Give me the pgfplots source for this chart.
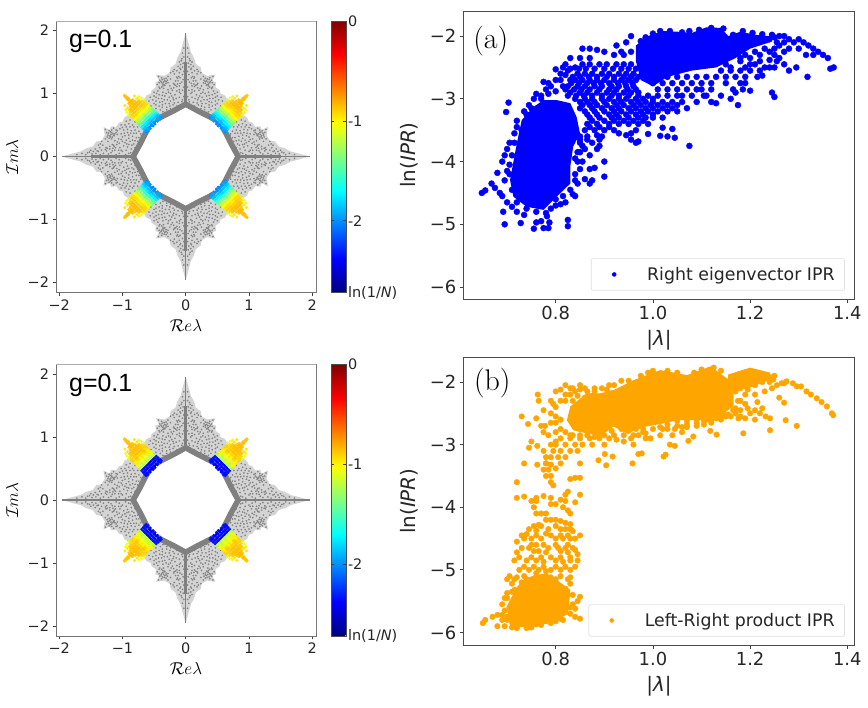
\documentclass[border=0pt]{standalone}
\usepackage{fontspec}
\usepackage{pgfplots}
\usepackage{pgfplotstable}
\pgfplotsset{compat=1.18}
\setsansfont{DejaVu Sans}
\newfontfamily\arial{Liberation Sans}
\newcommand{\fs}[1]{\fontsize{#1}{#1}\selectfont}
\definecolor{mplorange}{RGB}{255,165,0}

% one octant of the spectrum, drawn eight times by symmetry
\pgfplotstableread{
x y
0.83 0
1.96 0
1.78 0.05
1.66 0.08
1.57 0.13
1.47 0.16
1.41 0.24
1.33 0.25
1.28 0.34
1.30 0.47
1.20 0.42
1.18 0.48
1.10 0.47
1.05 0.54
1.00 0.55
0.97 0.62
0.87 0.68
0.60 0.43
0.67 0.30
0.72 0.20
0.78 0.09
}\wingtable
\pgfplotstableread{
x y
0.83 0
0.78 0.09
0.72 0.20
0.67 0.30
0.63 0.38
0.60 0.43
}\ringtable
\pgfplotstableread{
x y
0.83 0
1.50 0
}\spinetable
\pgfplotstableread{
x y
1.50 0
1.96 0
}\tiptable
\pgfplotstableread{
x y
0.90 0.05
0.95 0.03
1.00 0.08
1.05 0.05
1.10 0.03
1.12 0.10
1.18 0.06
1.22 0.04
1.25 0.09
1.30 0.05
1.35 0.03
1.38 0.08
1.42 0.05
1.48 0.04
1.52 0.07
1.58 0.03
1.64 0.05
1.72 0.03
0.86 0.12
0.92 0.15
0.98 0.17
1.04 0.14
1.09 0.19
1.15 0.13
1.20 0.16
1.26 0.14
1.31 0.18
1.36 0.14
1.43 0.12
1.50 0.10
0.82 0.20
0.88 0.24
0.94 0.26
1.00 0.24
1.06 0.28
1.12 0.25
1.17 0.28
1.23 0.24
1.27 0.28
1.33 0.24
0.78 0.30
0.84 0.32
0.90 0.34
0.96 0.33
1.02 0.36
1.08 0.35
1.13 0.33
1.15 0.36
1.18 0.35
1.20 0.33
1.22 0.37
1.24 0.31
1.19 0.39
1.16 0.31
1.21 0.29
0.74 0.40
0.80 0.42
0.86 0.41
0.92 0.43
0.98 0.42
1.04 0.44
1.10 0.42
0.84 0.50
0.90 0.52
0.96 0.50
1.02 0.50
0.76 0.47
0.71 0.36
0.76 0.24
0.80 0.14
1.13 0.16
1.14 0.18
1.16 0.19
1.11 0.14
1.35 0.20
1.38 0.18
1.05 0.21
1.00 0.31
0.93 0.20
0.87 0.37
1.17 0.38
1.14 0.34
1.12 0.36
1.19 0.31
1.23 0.34
1.25 0.38
1.21 0.41
1.17 0.42
1.10 0.38
1.16 0.09
1.20 0.12
1.24 0.13
1.27 0.11
1.33 0.10
1.40 0.09
1.46 0.08
1.55 0.06
0.80 0.07
0.76 0.13
0.72 0.27
0.70 0.33
0.87 0.06
0.85 0.18
0.80 0.25
0.78 0.37
0.74 0.30
0.82 0.47
0.88 0.47
0.94 0.47
1.00 0.46
0.88 0.58
0.94 0.56
0.80 0.55
0.74 0.52
0.90 0.29
0.96 0.22
1.02 0.27
1.08 0.23
1.06 0.10
0.94 0.10
0.90 0.19
0.84 0.26
0.82 0.37
1.02 0.10
1.08 0.41
1.14 0.45
1.27 0.43
0.97 0.37
0.92 0.38
}\specktable
\pgfplotstableread{
x y za zb
0.515 0.485 -2.05 -2.40
0.560 0.445 -2.00 -2.38
0.600 0.400 -1.95 -2.35
0.625 0.385 -2.00 -2.30
0.540 0.510 -2.00 -2.42
0.575 0.470 -1.95 -2.36
0.615 0.430 -1.90 -2.40
0.645 0.405 -1.90 -2.33
0.565 0.540 -1.90 -2.38
0.600 0.505 -1.85 -2.41
0.635 0.470 -1.85 -2.30
0.670 0.435 -1.80 -2.36
0.590 0.570 -1.80 -2.36
0.625 0.535 -1.75 -2.30
0.660 0.500 -1.75 -2.42
0.695 0.465 -1.70 -2.33
0.530 0.495 -2.00 -2.38
0.555 0.480 -1.98 -2.42
0.590 0.435 -1.92 -2.32
0.625 0.410 -1.95 -2.36
0.580 0.520 -1.85 -2.33
0.615 0.490 -1.82 -2.40
0.650 0.450 -1.85 -2.34
0.610 0.555 -1.75 -2.40
0.645 0.520 -1.72 -2.35
0.680 0.480 -1.72 -2.30
0.615 0.605 -1.60 -1.25
0.650 0.570 -1.60 -1.20
0.690 0.530 -1.55 -1.10
0.725 0.495 -1.50 -1.30
0.630 0.590 -1.55 -1.15
0.670 0.550 -1.50 -1.25
0.710 0.510 -1.45 -1.15
0.645 0.635 -1.45 -1.15
0.680 0.600 -1.40 -1.05
0.715 0.565 -1.35 -1.15
0.750 0.530 -1.40 -1.00
0.660 0.620 -1.35 -1.10
0.700 0.585 -1.30 -1.20
0.735 0.545 -1.30 -1.05
0.675 0.665 -1.25 -1.10
0.710 0.630 -1.20 -1.00
0.745 0.595 -1.25 -0.95
0.775 0.560 -1.20 -1.05
0.690 0.650 -1.15 -1.05
0.730 0.610 -1.15 -1.10
0.760 0.575 -1.18 -0.98
0.700 0.690 -1.10 -0.95
0.740 0.655 -1.05 -0.90
0.775 0.625 -1.10 -0.90
0.805 0.590 -1.05 -0.95
0.720 0.675 -1.02 -1.00
0.755 0.640 -1.00 -0.92
0.790 0.605 -1.02 -1.00
0.730 0.720 -0.98 -0.90
0.765 0.685 -0.95 -0.88
0.800 0.650 -0.95 -0.90
0.830 0.620 -0.95 -0.88
0.745 0.705 -0.95 -0.92
0.785 0.665 -0.92 -0.86
0.815 0.635 -0.93 -0.95
0.760 0.750 -0.90 -0.88
0.795 0.715 -0.88 -0.86
0.830 0.680 -0.90 -0.90
0.860 0.640 -0.95 -0.92
0.775 0.735 -0.90 -0.85
0.810 0.700 -0.88 -0.88
0.845 0.660 -0.90 -0.90
0.790 0.780 -0.86 -0.86
0.825 0.745 -0.86 -0.85
0.860 0.710 -0.88 -0.88
0.810 0.765 -0.85 -0.86
0.845 0.725 -0.86 -0.88
0.880 0.690 -0.92 -0.92
0.820 0.810 -0.85 -0.85
0.855 0.770 -0.85 -0.85
0.890 0.735 -0.90 -0.90
0.835 0.795 -0.85 -0.85
0.870 0.755 -0.86 -0.86
0.850 0.840 -0.85 -0.85
0.880 0.800 -0.86 -0.86
0.880 0.870 -0.85 -0.85
0.910 0.900 -0.85 -0.85
0.940 0.930 -0.86 -0.86
0.970 0.965 -0.88 -0.88
0.900 0.840 -0.88 -0.88
0.870 0.860 -0.85 -0.85
0.865 0.830 -0.85 -0.85
0.890 0.860 -0.85 -0.85
0.925 0.905 -0.86 -0.86
0.955 0.945 -0.87 -0.87
0.920 0.770 -0.95 -0.95
0.950 0.740 -1.00 -1.00
0.930 0.700 -1.05 -1.05
0.960 0.810 -0.95 -0.95
0.900 0.660 -1.10 -1.10
}\patchtable

\newcommand{\eightfold}[2]{%
\addplot[#1,forget plot] table[x expr=\thisrow{x},y expr=\thisrow{y}] {#2};
\addplot[#1,forget plot] table[x expr=-\thisrow{x},y expr=\thisrow{y}] {#2};
\addplot[#1,forget plot] table[x expr=\thisrow{x},y expr=-\thisrow{y}] {#2};
\addplot[#1,forget plot] table[x expr=-\thisrow{x},y expr=-\thisrow{y}] {#2};
\addplot[#1,forget plot] table[x expr=\thisrow{y},y expr=\thisrow{x}] {#2};
\addplot[#1,forget plot] table[x expr=-\thisrow{y},y expr=\thisrow{x}] {#2};
\addplot[#1,forget plot] table[x expr=\thisrow{y},y expr=-\thisrow{x}] {#2};
\addplot[#1,forget plot] table[x expr=-\thisrow{y},y expr=-\thisrow{x}] {#2};
}
\newcommand{\spectrum}[1]{%
\eightfold{fill=black!17,draw=none,no markers}{\wingtable}
\eightfold{only marks,mark=*,mark size=0.7bp,color=black!50,mark options={line width=0.2bp}}{\specktable}
\eightfold{draw=black!50,line width=5.5bp,line cap=round,line join=round,no markers}{\ringtable}
\eightfold{draw=black!50,line width=2.6bp,no markers}{\spinetable}
\eightfold{draw=black!50,line width=1.5bp,no markers}{\tiptable}
\eightfold{scatter,only marks,mark=*,mark size=1.4bp,point meta=\thisrow{#1},
  scatter/use mapped color={draw=mapped color,fill=mapped color},mark options={line width=0.2bp}}{\patchtable}
\draw[draw=black!32,line width=0.9bp] (rel axis cs:0,1)--(rel axis cs:1,1)--(rel axis cs:1,0);
}

\pgfplotsset{
  specaxis/.style={
    scale only axis,width=260bp,
    xmin=-2.05,xmax=2.06,ymin=-2.16,ymax=2.15,
    xtick={-2,-1,0,1,2},ytick={-2,-1,0,1,2},
    xticklabels={−2,−1,0,1,2},yticklabels={−2,−1,0,1,2},
    tick align=outside,xtick pos=left,ytick pos=left,
    major tick length=3.5bp,
    axis line style={draw=black!55,line width=0.8bp},
    tick style={draw=black!75,line width=0.7bp},
    tick label style={font=\sffamily\fs{14.5},text=black!85},
    xlabel={$\mathcal{R}e\lambda$},ylabel={$\mathcal{I}m\lambda$},
    xlabel style={at={(axis description cs:0.5,-0.119)},anchor=center,font=\fs{17}},
    ylabel style={at={(axis description cs:-0.169,0.5)},anchor=center,font=\fs{17}},
    colormap/jet,point meta min=-2.72,point meta max=0,
    colorbar,colorbar shift/.style={xshift=11bp},
    colorbar style={width=14.7bp,
      ytick={-2.72,-2,-1,0},yticklabels={ln(1/\textit{N}),-2,-1,0},
      major tick length=3bp,
      tick style={draw=black!75,line width=0.7bp},
      axis line style={draw=black!70,line width=0.6bp},
      yticklabel style={font=\sffamily\fs{14.5},text=black!85,inner sep=0pt,xshift=2bp,anchor=west},
    },
  },
  iprs/.style={
    scale only axis,width=390.6bp,
    xmin=0.6107,xmax=1.4144,
    xtick={0.8,1.0,1.2,1.4},xticklabels={0.8,1.0,1.2,1.4},
    ytick={-2,-3,-4,-5,-6},yticklabels={−2,−3,−4,−5,−6},
    tick align=outside,xtick pos=left,ytick pos=left,
    major tick length=4bp,
    axis line style={draw=black!70,line width=0.9bp},
    tick style={draw=black!75,line width=0.8bp},
    tick label style={font=\sffamily\fs{18},text=black!85},
    xlabel={|\textit{λ}|},ylabel={ln(\textit{IPR})},
    xlabel style={anchor=center,font=\sffamily\fs{20},text=black!85},
    ylabel style={at={(axis description cs:-0.14,0.5)},anchor=center,font=\sffamily\fs{20},text=black!85},
    legend cell align=left,
    legend style={font=\sffamily\fs{17.4},text=black!85,draw=black!12,rounded corners=2bp,
      line width=0.7bp,anchor=south east,inner xsep=8bp,inner ysep=2bp,
      nodes={inner ysep=6.5bp}},
  },
}

\begin{document}
\begin{tikzpicture}[x=1bp,y=1bp]
\path[use as bounding box] (0,0) rectangle (868,708);

\begin{axis}[specaxis,at={(56bp,415.3bp)},anchor=south west,height=271.7bp]
\spectrum{za}
\end{axis}

\begin{axis}[specaxis,at={(56bp,72bp)},anchor=south west,height=271.3bp]
\spectrum{zb}
\end{axis}

\begin{axis}[iprs,at={(463.7bp,409bp)},anchor=south west,height=288bp,
  ymin=-6.19,ymax=-1.60,
  xlabel style={at={(axis description cs:0.5,-0.142)}},
  legend style={at={(axis description cs:0.976,0.029)}},
  legend image code/.code={\path[draw=none,fill=none] (0,-2bp) rectangle (46bp,2bp);\fill[blue,draw=none] (15bp,0) circle (2.3bp);}]
% dense parts of the cloud
\addplot[fill=blue,draw=none,no markers,forget plot] coordinates {
(.706,-4.295) (.72,-3.71) (.73,-3.34) (.754,-3.13) (.775,-3.02) (.802,-3.02) (.83,-3.07) (.843,-3.29)
(.85,-3.55) (.836,-3.76) (.83,-4.08) (.83,-4.35) (.802,-4.56) (.775,-4.77) (.74,-4.72) (.713,-4.56)};
\addplot[fill=blue,draw=none,no markers,forget plot] coordinates {
(.965,-2.15) (.99,-2.0) (1.02,-1.92) (1.05,-1.93) (1.08,-1.95) (1.11,-1.86) (1.14,-1.87) (1.155,-2.0)
(1.18,-1.93) (1.21,-1.98) (1.24,-2.0) (1.24,-2.1) (1.2,-2.2) (1.17,-2.35) (1.13,-2.5) (1.08,-2.55)
(1.03,-2.65) (1.0,-2.8) (.975,-2.7) (.965,-2.4)};
\addplot[only marks,mark=*,mark size=3.0bp,color=blue,mark options={line width=0.4bp}] coordinates {
(.648,-4.5) (.655,-4.46) (.668,-4.35) (.68,-4.18) (.69,-4.0) (.675,-4.42) (.685,-4.5) (.69,-4.55)
(.692,-4.8) (.695,-5.0) (.7,-4.65) (.71,-4.72) (.72,-4.8) (.735,-4.85) (.728,-4.98) (.755,-5.07)
(.76,-4.97) (.77,-4.95) (.775,-5.06) (.785,-5.06) (.787,-4.97) (.782,-4.87) (.825,-4.93) (.825,-5.03)
(.79,-4.75) (.81,-4.68) (.82,-4.65) (.835,-4.52) (.84,-4.55) (.845,-4.35) (.85,-4.12) (.8,-4.7)
(.703,-3.06) (.698,-3.21) (.705,-3.7) (.7,-3.8) (.695,-3.9) (.705,-4.05) (.7,-4.15) (.72,-3.35)
(.735,-3.2) (.75,-3.15) (.76,-2.92) (.77,-3.0) (.78,-2.85) (.785,-2.75) (.775,-2.73) (.79,-2.8)
(.8,-2.53) (.81,-2.7) (.82,-2.62) (.825,-2.55) (.815,-2.5) (.83,-2.35) (.695,-4.3) (.71,-4.45) (.715,-3.55)
(.87,-4.12) (.88,-4.1) (.9,-4.0) (.9,-4.24) (.86,-4.28) (.87,-4.35) (.875,-4.3) (.855,-4.0)
(.87,-3.9) (.885,-3.8) (.89,-3.75) (.895,-3.6) (.9,-3.5) (.89,-3.65) (.86,-3.8) (.85,-3.85)
(.865,-3.65) (.875,-3.7) (.92,-3.5) (.93,-3.55) (.945,-3.58) (.955,-3.65) (.965,-3.7) (.97,-3.68)
(.955,-3.55) (.965,-3.5) (.99,-3.56) (1.015,-3.59) (1.02,-3.46) (1.04,-3.48) (1.045,-3.62) (1.03,-3.6)
(1.075,-3.75) (.84,-3.95) (.84,-4.2) (.85,-3.7)
(.855,-2.2) (.87,-2.2) (.885,-2.22) (.925,-2.15) (.945,-2.1) (.955,-2.0) (.935,-2.25)
(.85,-2.35) (.87,-2.35) (.9,-2.25) (.92,-2.3) (.94,-2.3) (.955,-2.25)
(.82,-2.45) (.84,-2.5) (.855,-2.45) (.87,-2.45) (.89,-2.45) (.905,-2.45) (.925,-2.45) (.94,-2.45) (.955,-2.45)
(.845,-2.6) (.86,-2.6) (.875,-2.6) (.895,-2.6) (.91,-2.6) (.93,-2.6) (.945,-2.6) (.96,-2.6)
(.84,-2.7) (.855,-2.7) (.87,-2.7) (.885,-2.7) (.9,-2.7) (.92,-2.7) (.935,-2.7) (.95,-2.7) (.965,-2.7)
(.825,-2.8) (.845,-2.8) (.86,-2.8) (.88,-2.8) (.895,-2.8) (.915,-2.8) (.93,-2.8) (.945,-2.8) (.96,-2.8)
(.83,-2.9) (.85,-2.9) (.865,-2.9) (.885,-2.9) (.905,-2.9) (.92,-2.9) (.94,-2.9) (.955,-2.9) (.97,-2.9)
(.84,-3.0) (.86,-3.0) (.875,-3.0) (.895,-3.0) (.91,-3.0) (.93,-3.0) (.945,-3.0) (.965,-3.0) (.98,-3.0) (1.0,-3.0)
(.855,-3.1) (.87,-3.1) (.885,-3.1) (.905,-3.1) (.925,-3.1) (.94,-3.1) (.96,-3.1) (.975,-3.1) (.995,-3.1) (1.01,-3.1) (1.03,-3.1) (1.05,-3.1)
(.86,-3.2) (.88,-3.2) (.9,-3.2) (.92,-3.2) (.935,-3.2) (.955,-3.2) (.975,-3.2) (.99,-3.2) (1.01,-3.2) (1.03,-3.2) (1.05,-3.2)
(.87,-3.3) (.89,-3.3) (.915,-3.3) (.93,-3.3) (.95,-3.3) (.97,-3.3) (.985,-3.3) (1.0,-3.3) (1.02,-3.3)
(.865,-3.4) (.885,-3.4) (.91,-3.4) (.93,-3.4) (.95,-3.4) (.97,-3.4) (.99,-3.4)
(.86,-3.5) (.88,-3.5) (.865,-3.6) (.885,-3.58) (.85,-3.6)
(1.14,-2.55) (1.16,-2.55) (1.18,-2.55) (1.2,-2.55) (1.22,-2.55) (1.24,-2.5)
(1.01,-2.65) (1.03,-2.65) (1.05,-2.65) (1.07,-2.65) (1.09,-2.65) (1.11,-2.65) (1.13,-2.65) (1.15,-2.65) (1.17,-2.65) (1.19,-2.65)
(1.0,-2.75) (1.02,-2.75) (1.04,-2.75) (1.06,-2.75) (1.08,-2.75) (1.10,-2.75) (1.12,-2.75) (1.15,-2.75) (1.18,-2.75) (1.19,-2.75)
(1.01,-2.85) (1.03,-2.85) (1.05,-2.85) (1.07,-2.85) (1.09,-2.85) (1.1,-2.85) (1.12,-2.85) (1.165,-2.85) (1.2,-2.87)
(1.01,-2.95) (1.03,-2.95) (1.05,-2.95) (1.06,-2.95) (1.08,-2.95) (1.11,-2.95) (1.14,-2.95) (1.17,-2.9)
(1.04,-3.05) (1.06,-3.05) (1.09,-3.05) (1.12,-3.05) (1.13,-3.07) (1.16,-3.0) (1.175,-3.1) (1.07,-3.15) (1.105,-2.95) (1.185,-2.85)
(1.18,-2.4) (1.2,-2.35) (1.21,-2.45) (1.22,-2.3) (1.24,-2.25) (1.25,-2.2) (1.19,-2.5) (1.215,-2.65) (1.225,-2.63)
(1.245,-2.9) (1.25,-2.97) (1.318,-2.65) (1.295,-2.5) (1.27,-2.45) (1.28,-2.55) (1.25,-2.5) (1.255,-2.4) (1.26,-2.35) (1.23,-2.5)
(1.36,-2.35) (1.35,-2.3) (1.372,-2.5) (1.365,-2.52) (1.34,-2.25) (1.33,-2.2) (1.32,-2.15) (1.31,-2.1) (1.3,-2.05) (1.29,-2.1)
(1.28,-2.05) (1.27,-2.0) (1.26,-2.0) (1.25,-2.02) (1.33,-2.3) (1.315,-2.3) (1.3,-2.2) (1.28,-2.2) (1.27,-2.1) (1.255,-2.1) (1.24,-2.05)
(.83,-2.52) (.848,-2.52) (.862,-2.52) (.88,-2.52) (.9,-2.52) (.918,-2.52) (.935,-2.52) (.95,-2.52) (.965,-2.52)
(.835,-2.65) (.85,-2.65) (.868,-2.65) (.885,-2.65) (.905,-2.65) (.92,-2.65) (.94,-2.65) (.955,-2.65) (.97,-2.65)
(.832,-2.75) (.848,-2.75) (.865,-2.75) (.878,-2.75) (.893,-2.75) (.91,-2.75) (.928,-2.75) (.943,-2.75) (.958,-2.75)
(.82,-2.85) (.838,-2.85) (.853,-2.85) (.87,-2.85) (.89,-2.85) (.91,-2.85) (.925,-2.85) (.948,-2.85) (.965,-2.85)
(.825,-2.95) (.842,-2.95) (.858,-2.95) (.875,-2.95) (.895,-2.95) (.915,-2.95) (.93,-2.95) (.95,-2.95) (.97,-2.95) (.99,-2.95)
(.85,-3.05) (.865,-3.05) (.88,-3.05) (.9,-3.05) (.92,-3.05) (.935,-3.05) (.955,-3.05) (.97,-3.05) (.985,-3.05) (1.0,-3.05) (1.02,-3.05)
(.85,-3.15) (.875,-3.15) (.895,-3.15) (.915,-3.15) (.93,-3.15) (.95,-3.15) (.965,-3.15) (.985,-3.15) (1.0,-3.15) (1.02,-3.15) (1.04,-3.15)
(.865,-3.25) (.885,-3.25) (.91,-3.25) (.925,-3.25) (.945,-3.25) (.965,-3.25) (.98,-3.25) (1.0,-3.25)
(.875,-3.35) (.9,-3.35) (.92,-3.35) (.94,-3.35) (.96,-3.35) (.98,-3.35) (.87,-3.45) (.89,-3.45) (.91,-3.45)
(.72,-3.45) (.715,-3.7) (.71,-3.9) (.705,-4.2) (.73,-3.5) (.74,-3.25) (.745,-3.1) (.755,-3.0) (.77,-2.95) (.785,-2.92) (.8,-2.88) (.815,-2.8)
(.8,-2.7) (.83,-2.7) (.81,-2.6) (.72,-4.65) (.74,-4.75) (.76,-4.8) (.78,-4.82) (.8,-4.6) (.815,-4.55) (.83,-4.45) (.84,-4.3) (.845,-4.0)
(.845,-3.85) (.855,-3.75) (.85,-3.65)
(.975,-2.08) (.985,-2.02) (1.0,-1.96) (1.015,-1.92) (1.035,-1.92) (1.06,-1.94) (1.075,-1.92) (1.095,-1.9) (1.12,-1.87) (1.145,-1.88)
(1.165,-1.98) (1.185,-1.92) (1.205,-1.95) (1.225,-1.97) (1.245,-1.98)
(1.17,-2.25) (1.19,-2.3) (1.21,-2.25) (1.23,-2.2) (1.18,-2.35) (1.2,-2.45) (1.22,-2.4) (1.24,-2.38) (1.15,-2.45) (1.16,-2.5) (1.25,-2.3) (1.26,-2.15) (1.27,-2.25)
};
\addlegendentry{Right eigenvector IPR}
\end{axis}

\begin{axis}[iprs,at={(463.7bp,63bp)},anchor=south west,height=287.7bp,
  ymin=-6.2,ymax=-1.605,
  xlabel style={at={(axis description cs:0.5,-0.145)}},
  legend style={at={(axis description cs:0.976,0.029)}},
  legend image code/.code={\path[draw=none,fill=none] (0,-2bp) rectangle (46bp,2bp);\fill[mplorange,draw=none] (15bp,0) circle (2.3bp);}]
\addplot[fill=mplorange,draw=none,no markers,forget plot] coordinates {
(.706,-5.91) (.699,-5.59) (.72,-5.27) (.747,-5.11) (.775,-5.06) (.802,-5.16) (.83,-5.32) (.826,-5.7) (.795,-5.83) (.754,-5.91)};
\addplot[fill=mplorange,draw=none,no markers,forget plot] coordinates {
(.919,-2.13) (.96,-1.97) (1.015,-1.81) (1.07,-1.89) (1.118,-1.75) (1.138,-1.86) (1.166,-2.02) (1.166,-2.39) (1.138,-2.53)
(1.097,-2.61) (1.049,-2.61) (1.022,-2.66) (.987,-2.71) (.946,-2.82) (.919,-2.71) (.891,-2.87) (.864,-2.82) (.836,-2.77) (.823,-2.61) (.83,-2.39) (.864,-2.18) (.891,-2.18)};
\addplot[fill=mplorange,draw=none,no markers,forget plot] coordinates {
(1.155,-1.88) (1.2,-1.77) (1.241,-1.85) (1.241,-1.96) (1.2,-2.09) (1.155,-2.17)};
\addplot[only marks,mark=*,mark size=2.8bp,color=mplorange,mark options={line width=0.4bp}] coordinates {
(1.248,-1.96) (1.275,-1.99) (1.288,-2.02) (1.296,-2.07) (1.305,-2.07) (1.316,-2.15) (1.325,-2.2) (1.337,-2.26) (1.347,-2.32) (1.358,-2.39) (1.371,-2.53) (1.368,-2.5)
(1.296,-2.7) (1.273,-2.61) (1.241,-2.77) (1.241,-2.58) (1.232,-2.55) (1.22,-2.5) (1.21,-2.6) (1.186,-2.82) (1.176,-2.58) (1.131,-2.84) (1.118,-2.78) (1.083,-2.87) (1.073,-2.94) (1.045,-3.02) (1.035,-3.0)
(1.022,-3.19) (1.026,-3.16) (.977,-3.14) (.97,-3.15) (.958,-3.3) (.917,-3.19) (.904,-3.33) (.901,-3.15) (.888,-3.25)
(1.18,-2.45) (1.195,-2.42) (1.21,-2.45) (1.19,-2.58) (1.2,-2.5) (1.17,-2.5) (1.16,-2.55) (1.14,-2.6) (1.12,-2.65) (1.105,-2.68) (1.09,-2.7) (1.07,-2.68) (1.06,-2.72) (1.045,-2.75)
(1.03,-2.75) (1.015,-2.85) (.995,-2.9) (.985,-2.9) (.97,-2.85) (.955,-2.9) (.94,-2.95) (.925,-2.92) (.91,-2.9) (1.04,-2.85) (1.06,-2.8) (1.02,-2.75) (.96,-3.0) (.98,-2.8) (1.175,-2.3) (1.19,-2.2) (1.21,-2.2) (1.23,-2.15) (1.245,-2.1) (1.26,-2.25) (1.27,-2.33) (1.255,-2.05) (1.265,-2.02)
(.763,-2.2) (.79,-2.3) (.795,-2.35) (.8,-2.15) (.81,-2.12) (.82,-2.05) (.83,-2.1) (.85,-2.05) (.86,-2.1) (.88,-2.1) (.91,-2.05) (.84,-2.15) (.82,-2.2) (.8,-2.4) (.81,-2.3)
(.73,-2.55) (.743,-2.67) (.76,-2.58) (.77,-2.7) (.778,-2.7) (.79,-2.65) (.81,-2.6) (.8,-2.8) (.785,-2.85) (.775,-2.8)
(.75,-2.95) (.745,-3.05) (.762,-3.02) (.735,-3.3) (.762,-3.32) (.78,-3.3)
(.81,-2.9) (.83,-2.9) (.85,-2.9) (.87,-2.9) (.89,-2.9) (.83,-2.85) (.8,-2.95) (.79,-3.0)
(.80,-3.0) (.82,-3.0) (.84,-3.0) (.855,-3.0) (.875,-3.0) (.90,-3.0) (.795,-3.1) (.81,-3.1) (.83,-3.1) (.845,-3.1) (.775,-3.1)
(.79,-3.2) (.805,-3.2) (.82,-3.2) (.78,-3.2) (.78,-3.3) (.79,-3.32) (.81,-3.3) (.85,-3.3)
(.775,-3.4) (.785,-3.4) (.80,-3.38) (.78,-3.5) (.79,-3.5) (.83,-3.55) (.84,-3.53) (.85,-3.53) (.79,-3.6) (.72,-3.6) (.795,-3.65)
(.825,-3.75) (.82,-3.8) (.85,-3.8) (.72,-3.85) (.735,-3.83) (.76,-3.85) (.775,-3.82) (.79,-3.85)
(.75,-3.9) (.76,-3.9) (.82,-3.9) (.84,-3.92) (.81,-3.88) (.755,-4.0) (.79,-3.95) (.8,-3.95) (.815,-4.0) (.825,-4.05)
(.76,-4.1) (.77,-4.1) (.78,-4.1) (.83,-4.1) (.78,-4.2) (.79,-4.2) (.8,-4.2) (.81,-4.22) (.82,-4.25) (.83,-4.27)
(.755,-4.3) (.765,-4.28) (.77,-4.3) (.80,-4.3) (.82,-4.35) (.835,-4.38) (.73,-4.45) (.74,-4.43) (.76,-4.45) (.78,-4.42) (.79,-4.45) (.81,-4.45) (.825,-4.45) (.84,-4.5) (.85,-4.45)
(.72,-4.55) (.75,-4.6) (.76,-4.6) (.775,-4.6) (.8,-4.6) (.825,-4.6) (.84,-4.68) (.72,-4.72) (.755,-4.7) (.765,-4.7) (.78,-4.72) (.81,-4.7) (.825,-4.72) (.845,-4.75)
(.715,-4.85) (.74,-4.85) (.76,-4.85) (.775,-4.87) (.8,-4.85) (.815,-4.87) (.83,-4.85) (.845,-4.85)
(.725,-5.0) (.745,-5.0) (.765,-5.0) (.79,-5.0) (.81,-5.0) (.83,-5.0) (.705,-5.1) (.72,-5.12) (.735,-5.1) (.76,-5.05) (.78,-5.02) (.81,-5.1) (.83,-5.12)
(.71,-5.22) (.73,-5.2) (.83,-5.22) (.715,-5.32) (.70,-5.37) (.695,-5.45) (.835,-5.4)
(.85,-5.43) (.845,-5.5) (.835,-5.55) (.85,-5.78) (.84,-5.75) (.83,-5.7) (.815,-5.8) (.83,-5.6) (.84,-5.62)
(.65,-5.85) (.655,-5.8) (.67,-5.75) (.68,-5.72) (.69,-5.8) (.68,-5.9) (.695,-5.9) (.705,-5.6) (.695,-5.65) (.69,-5.72) (.7,-5.8)
(.72,-5.93) (.74,-5.93) (.75,-5.92) (.77,-5.88) (.79,-5.85) (.80,-5.82) (.81,-5.78) (.71,-5.92)
(.835,-2.1) (.85,-2.12) (.865,-2.15) (.88,-2.15) (.895,-2.1) (.905,-2.12) (.83,-2.2) (.845,-2.22) (.86,-2.25) (.875,-2.22) (.89,-2.25) (.905,-2.2) (.915,-2.18) (.82,-2.3) (.835,-2.3)
(.85,-2.75) (.865,-2.75) (.88,-2.78) (.9,-2.75) (.915,-2.78) (.935,-2.75) (.95,-2.78) (.965,-2.75) (.98,-2.75) (1.0,-2.75) (1.015,-2.72)
(.835,-2.85) (.85,-2.85) (.865,-2.85) (.88,-2.88) (.9,-2.85) (.92,-2.85) (.94,-2.85) (.96,-2.85) (.985,-2.82)
(1.03,-2.68) (1.05,-2.7) (1.07,-2.72) (1.09,-2.66) (1.105,-2.62) (1.12,-2.6) (1.14,-2.56) (1.155,-2.52)
(1.05,-2.62) (1.07,-2.62) (1.09,-2.6) (1.11,-2.6) (1.13,-2.58) (1.15,-2.55) (1.165,-2.45) (1.145,-2.5) (1.18,-2.55) (1.17,-2.42)
(1.17,-2.15) (1.18,-2.1) (1.195,-2.12) (1.21,-2.05) (1.225,-2.0) (1.24,-2.0) (1.18,-2.3) (1.19,-2.35) (1.215,-2.32) (1.225,-2.42)
(.92,-2.05) (.935,-1.98) (.95,-1.98) (.975,-1.9) (.99,-1.85) (1.0,-1.82) (1.03,-1.82) (1.05,-1.85) (1.085,-1.85) (1.1,-1.8) (1.125,-1.77) (1.14,-1.82) (1.16,-1.95) (1.175,-1.88) (1.19,-1.85) (1.25,-1.9) (1.24,-1.92) (1.27,-2.02)
(.775,-2.45) (.79,-2.5) (.8,-2.55) (.765,-2.3) (.81,-2.75) (.82,-2.8) (.8,-2.65)
(.70,-5.15) (.715,-5.15) (.74,-5.15) (.80,-5.15) (.825,-5.15) (.735,-4.95) (.755,-4.95) (.775,-4.95) (.80,-4.95) (.82,-4.95) (.84,-4.95)
(.725,-4.8) (.75,-4.8) (.77,-4.8) (.79,-4.8) (.81,-4.8) (.83,-4.8) (.73,-4.65) (.745,-4.65) (.785,-4.65) (.805,-4.65) (.82,-4.65) (.835,-4.65)
(.735,-4.5) (.75,-4.5) (.77,-4.5) (.80,-4.5) (.815,-4.5) (.83,-4.5) (.745,-4.35) (.76,-4.37) (.785,-4.35) (.81,-4.35) (.83,-4.35)
(.7,-5.75) (.72,-5.85) (.74,-5.88) (.76,-5.87) (.78,-5.82) (.8,-5.75) (.815,-5.65) (.82,-5.5) (.825,-5.4) (.69,-5.55) (.7,-5.45) (.71,-5.35) (.73,-5.25) (.74,-5.15) (.76,-5.1) (.78,-5.1) (.79,-5.12) (.8,-5.2) (.82,-5.3)
};
\addlegendentry{Left-Right product IPR}
\end{axis}

\node[font=\arial\fs{25}] at (100.7,666.3) {g=0.1};
\node[font=\arial\fs{25}] at (100.7,323) {g=0.1};
\node[font=\rmfamily\fs{30}] at (490.7,667) {(a)};
\node[font=\rmfamily\fs{30}] at (492.3,325) {(b)};
\end{tikzpicture}
\end{document}
